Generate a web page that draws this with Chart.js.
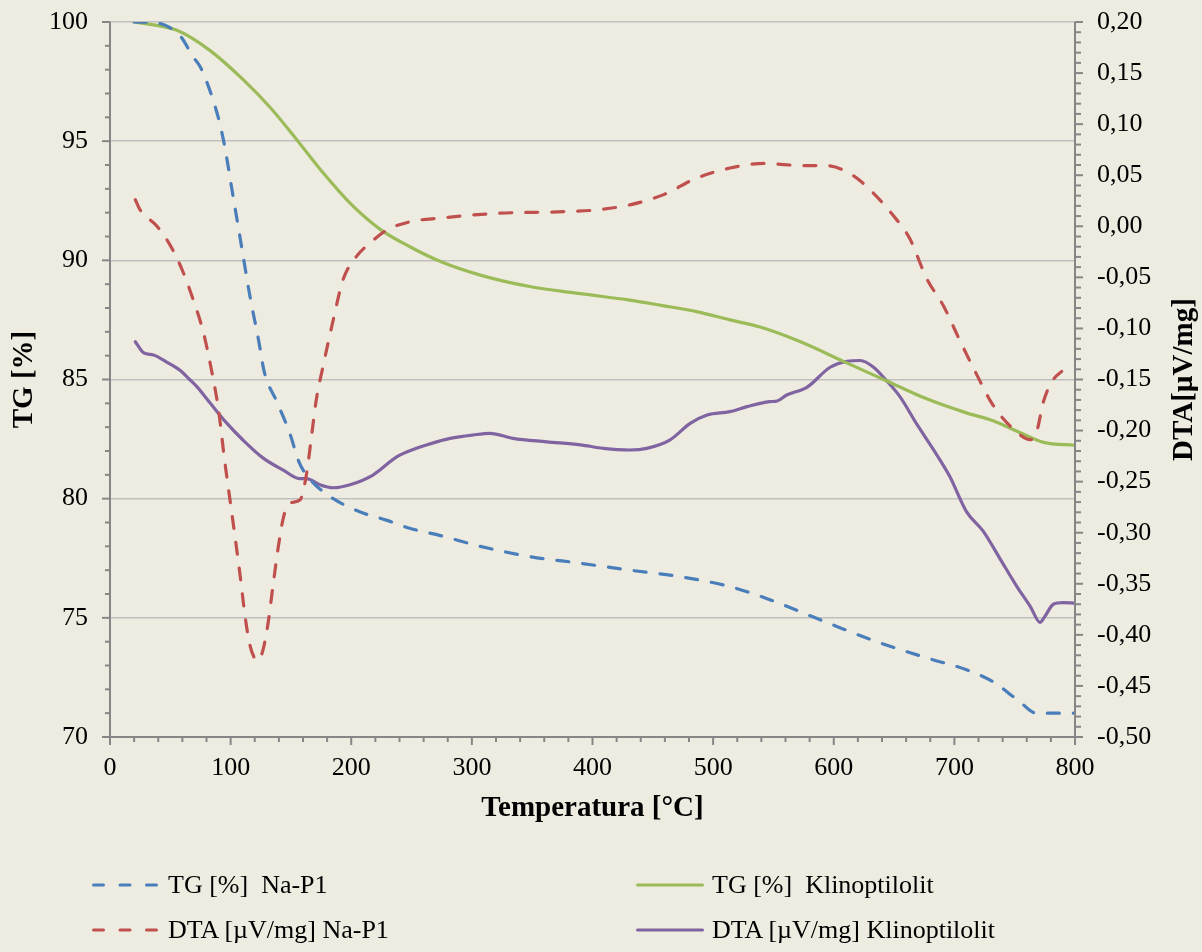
<!DOCTYPE html>
<html>
<head>
<meta charset="utf-8">
<script src="https://cdn.jsdelivr.net/npm/chart.js@4.4.1/dist/chart.umd.min.js"></script>
<style>
  body { margin: 0; background: #EEECE1; }
  #wrap { position: relative; width: 1202px; height: 952px; background: #EEECE1; overflow: hidden; }
  #chart { position: absolute; left: 0; top: 0; }
  .leg { position: absolute; height: 30px; display: flex; align-items: center;
         font-family: 'Liberation Serif', 'Times New Roman', serif; font-size: 26px; color: #000; white-space: pre; }
  .leg svg { margin-right: 8px; }
</style>
</head>
<body>
<div id="wrap">
  <canvas id="chart" width="1202" height="952"></canvas>
  <div id="legend"></div>
</div>
<script>
// TG [%] Na-P1 (left axis)
const tgNaP1Temp = [20, 40, 50, 60, 68, 75, 83, 91, 95, 102, 109, 116, 123, 128, 138, 149, 157, 166, 182, 207, 229, 249, 274, 307, 348, 390, 431, 472, 514, 547, 594, 636, 677, 710, 732, 754, 768, 800];
const tgNaP1 =     [100, 99.95, 99.75, 99.3, 98.6, 98.1, 97.1, 95.75, 94.8, 92.7, 90.6, 88.5, 86.7, 85.3, 84.1, 82.75, 81.5, 80.8, 80.1, 79.45, 79.1, 78.75, 78.45, 78.0, 77.57, 77.29, 77.0, 76.73, 76.31, 75.76, 74.81, 73.99, 73.32, 72.82, 72.32, 71.49, 71.0, 71.0];

// TG [%] Klinoptilolit (left axis)
const tgKlinoTemp = [20, 55, 83, 110, 133, 155, 177, 199, 224, 249, 274, 307, 348, 390, 431, 458, 487, 514, 539, 572, 608, 644, 677, 710, 732, 754, 774, 800];
const tgKlino =     [100, 99.66, 98.8, 97.6, 96.4, 95.05, 93.65, 92.4, 91.3, 90.56, 89.95, 89.38, 88.9, 88.6, 88.33, 88.1, 87.84, 87.5, 87.2, 86.59, 85.76, 84.94, 84.19, 83.6, 83.27, 82.78, 82.36, 82.24];

// DTA [µV/mg] Na-P1 (right axis)
const dtaNaP1Temp = [21, 25, 39, 52, 61, 69, 77, 84, 90, 95, 99.5, 104, 108, 112, 116, 120, 123, 127, 131, 135, 139.5, 144, 149, 157.5, 163, 167, 171, 177, 185, 193, 204, 215, 229, 249, 274, 321, 376, 403, 431, 459, 486, 514, 542, 575, 594, 616, 633, 649, 663, 677, 691, 705, 718, 732, 749, 763, 768, 774, 782, 789];
const dtaNaP1 =     [0.026, 0.016, 0.0, -0.023, -0.046, -0.072, -0.102, -0.140, -0.180, -0.229, -0.268, -0.307, -0.343, -0.382, -0.410, -0.423, -0.425, -0.414, -0.389, -0.353, -0.314, -0.284, -0.271, -0.268, -0.242, -0.206, -0.170, -0.135, -0.092, -0.053, -0.030, -0.017, -0.004, 0.0045, 0.008, 0.0127, 0.0143, 0.016, 0.021, 0.031, 0.047, 0.057, 0.0615, 0.0594, 0.0594, 0.0497, 0.0323, 0.011, -0.012, -0.051, -0.078, -0.113, -0.144, -0.175, -0.1985, -0.209, -0.202, -0.171, -0.150, -0.142];

// DTA [µV/mg] Klinoptilolit (right axis)
const dtaKlinoTemp = [21, 28, 36, 47, 58, 66, 72, 83, 97, 110, 127, 144, 157, 163, 174, 185, 199, 218, 238, 254, 274, 282, 301, 315, 334, 362, 390, 409, 431, 445, 464, 481, 495, 514, 528, 547, 553, 561, 578, 597, 611, 622, 633, 644, 655, 669, 682, 696, 710, 724, 738, 752, 763, 771, 775, 782, 790, 800];
const dtaKlino =     [-0.113, -0.124, -0.126, -0.133, -0.141, -0.150, -0.157, -0.173, -0.193, -0.209, -0.227, -0.239, -0.247, -0.247, -0.253, -0.256, -0.253, -0.2435, -0.2256, -0.2174, -0.210, -0.2076, -0.2043, -0.2027, -0.2076, -0.211, -0.214, -0.2174, -0.219, -0.2174, -0.2093, -0.193, -0.1848, -0.1815, -0.1766, -0.1717, -0.171, -0.1652, -0.1574, -0.138, -0.1322, -0.1314, -0.138, -0.1515, -0.167, -0.194, -0.2174, -0.2445, -0.2793, -0.2987, -0.3258, -0.353, -0.3723, -0.3877, -0.382, -0.370, -0.3684, -0.369];

const seriesLabels = ['TG [%]  Na-P1', 'DTA [µV/mg] Na-P1', 'TG [%]  Klinoptilolit', 'DTA [µV/mg] Klinoptilolit'];
const seriesColors = ['#4A7EBB', '#C0504D', '#9BBB59', '#8064A2'];

const serif = "'Liberation Serif', 'Times New Roman', serif";
const pts = (xs, ys) => xs.map((x, i) => ({x: x, y: ys[i]}));

// axis lines, major/minor tick marks and the right-hand title
const axisDecor = {
    id: 'axisDecor',
    afterDraw(chart) {
        const {ctx, chartArea: a, scales: {x, y, y2}} = chart;
        ctx.save();
        ctx.strokeStyle = '#868686';
        ctx.lineWidth = 2;
        const line = (x1, y1, x2, y2_) => { ctx.beginPath(); ctx.moveTo(x1, y1); ctx.lineTo(x2, y2_); ctx.stroke(); };
        line(a.left, a.top, a.left, a.bottom + 1);
        line(a.right, a.top, a.right, a.bottom + 1);
        line(a.left - 1, a.bottom, a.right + 1, a.bottom);
        for (let v = 70; v <= 100; v++) {
            const p = y.getPixelForValue(v);
            line(a.left - (v % 5 === 0 ? 8 : 5), p, a.left, p);
        }
        for (let i = 0; i <= 70; i++) {
            const p = y2.getPixelForValue(-0.5 + i * 0.01);
            line(a.right, p, a.right + (i % 5 === 0 ? 8 : 6), p);
        }
        for (let v = 0; v <= 800; v += 20) {
            const p = x.getPixelForValue(v);
            line(p, a.bottom, p, a.bottom + (v % 100 === 0 ? 8 : 5));
        }
        // DTA title reads bottom to top
        ctx.translate(1192, (a.top + a.bottom) / 2);
        ctx.rotate(-Math.PI / 2);
        ctx.fillStyle = '#000';
        ctx.font = 'bold 29px ' + serif;
        ctx.textAlign = 'center';
        ctx.textBaseline = 'alphabetic';
        ctx.fillText('DTA[µV/mg]', 0, 0);
        ctx.restore();
    }
};

const tickFont = {family: serif, size: 26};
const titleFont = {family: serif, size: 29, weight: 'bold'};

// fixed axis box, without the extra label padding chart.js adds above/below
const fitY = w => s => { s.width = w; s.paddingTop = 0; s.paddingBottom = 0; };

function makeSet(i, xs, ys, axis, dashed) {
    return {
        label: seriesLabels[i],
        data: pts(xs, ys),
        yAxisID: axis,
        borderColor: seriesColors[i],
        backgroundColor: seriesColors[i],
        borderWidth: 3.2,
        borderDash: dashed ? [12, 14] : [],
        borderCapStyle: 'round',
        borderJoinStyle: 'round',
        pointRadius: 0,
        cubicInterpolationMode: 'monotone',
        fill: false
    };
}

new Chart(document.getElementById('chart'), {
    type: 'line',
    data: {
        datasets: [
            makeSet(0, tgNaP1Temp, tgNaP1, 'y', true),
            makeSet(1, dtaNaP1Temp, dtaNaP1, 'y2', true),
            makeSet(2, tgKlinoTemp, tgKlino, 'y', false),
            makeSet(3, dtaKlinoTemp, dtaKlino, 'y2', false)
        ]
    },
    options: {
        responsive: false,
        animation: false,
        devicePixelRatio: 1,
        layout: {padding: {top: 22, bottom: 122, left: 0, right: 0}},
        plugins: {legend: {display: false}, tooltip: {enabled: false}},
        scales: {
            x: {
                type: 'linear', min: 0, max: 800,
                afterFit: s => { s.height = 93; },
                ticks: {stepSize: 100, padding: 16, color: '#000', font: tickFont, maxRotation: 0},
                grid: {display: false, drawTicks: false},
                border: {display: false},
                title: {display: true, text: 'Temperatura [°C]', color: '#000', font: titleFont, padding: {top: 4, bottom: 4}}
            },
            y: {
                position: 'left', min: 70, max: 100,
                afterFit: fitY(110),
                ticks: {stepSize: 5, padding: 22, color: '#000', font: tickFont},
                grid: {color: '#BFBFBF', lineWidth: 1.5, drawTicks: false},
                border: {display: false},
                title: {display: true, text: 'TG [%]', color: '#000', font: titleFont, padding: {top: 7, bottom: 0}}
            },
            y2: {
                position: 'right', min: -0.5, max: 0.2,
                afterFit: fitY(127),
                ticks: {stepSize: 0.05, padding: 22, color: '#000', font: tickFont,
                        callback: v => (Math.abs(v) < 1e-9 ? 0 : v).toFixed(2).replace('.', ',')},
                grid: {drawOnChartArea: false, drawTicks: false},
                border: {display: false}
            }
        }
    },
    plugins: [axisDecor]
});

// legend below the chart, two columns
const legendPos = [[92, 870], [92, 915], [636, 870], [636, 915]];
const legendEl = document.getElementById('legend');
seriesLabels.forEach((lab, i) => {
    const dashed = i < 2;
    const d = document.createElement('div');
    d.className = 'leg';
    d.style.left = legendPos[i][0] + 'px';
    d.style.top = legendPos[i][1] + 'px';
    d.innerHTML = `<svg width="68" height="6"><line x1="1.5" y1="3" x2="66.5" y2="3" stroke="${seriesColors[i]}" stroke-width="3" stroke-linecap="round" ${dashed ? 'stroke-dasharray="10 16.5"' : ''}/></svg><span>${lab}</span>`;
    legendEl.appendChild(d);
});
</script>
</body>
</html>
